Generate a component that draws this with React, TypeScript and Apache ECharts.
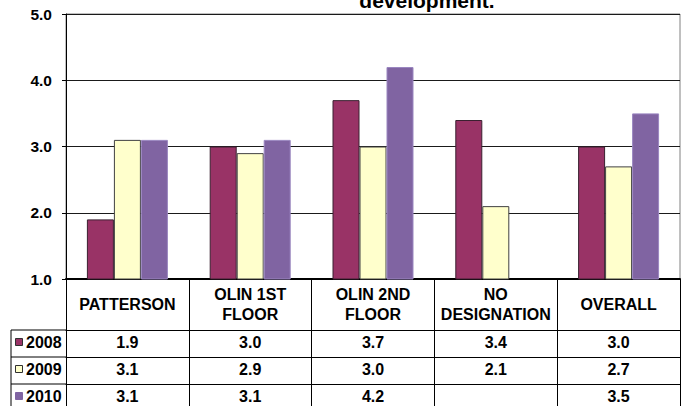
import { useEffect, useRef } from 'react';
import * as echarts from 'echarts';

// Survey groups (header row of the data table)
const categories = ['PATTERSON', 'OLIN 1ST\nFLOOR', 'OLIN 2ND\nFLOOR', 'NO\nDESIGNATION', 'OVERALL'];

// Mean scores per year
const years = ['2008', '2009', '2010'];
const values2008: (number | null)[] = [1.9, 3.0, 3.7, 3.4, 3.0];
const values2009: (number | null)[] = [3.1, 2.9, 3.0, 2.1, 2.7];
const values2010: (number | null)[] = [3.1, 3.1, 4.2, null, 3.5];
const seriesValues = [values2008, values2009, values2010];

// Value axis range
const yMin = 1;
const yMax = 5;
const yStep = 1;

const titleText = 'development.';

const colors = ['#993366', '#FFFFCC', '#8064A2'];
const borders = ['#3a2030', '#404040', '#9a86c0'];

const FONT = '"Liberation Sans", Arial, sans-serif';

// Layout of the plot area and the data table under it
const W = 684;
const H = 406;
const GRID_LEFT = 66;
const GRID_RIGHT = 4;
const GRID_TOP = 14;
const GRID_BOTTOM = 127;
const HEADER_H = 51;
const ROW_H = 27;
const TABLE_LEFT = 11;

const fmt = (v: number | null) => (v == null ? '' : v.toFixed(1));

export default function App() {
  const ref = useRef<HTMLDivElement>(null);

  useEffect(() => {
    const chart = echarts.init(ref.current!, null, { renderer: 'svg' });
    const axisBottom = H - GRID_BOTTOM;
    const tableTop = axisBottom + HEADER_H;

    const rowAxes = seriesValues.map((vals, i) => ({
      type: 'category',
      gridIndex: 0,
      position: 'bottom',
      offset: HEADER_H + i * ROW_H,
      data: categories,
      boundaryGap: true,
      axisLine: { show: true, lineStyle: { color: '#000', width: 1 } },
      axisTick: { show: true, length: ROW_H, lineStyle: { color: '#000', width: 1 } },
      axisLabel: {
        interval: 0,
        margin: ROW_H / 2 - 1,
        verticalAlign: 'middle',
        color: '#000',
        fontFamily: FONT,
        fontWeight: 'bold',
        fontSize: 16,
        formatter: (_v: string, idx: number) => fmt(vals[idx]),
      },
      splitLine: { show: false },
    }));

    const legendGraphics: any[] = [
      {
        type: 'line',
        shape: { x1: TABLE_LEFT, y1: tableTop, x2: TABLE_LEFT, y2: H },
        style: { stroke: '#000', lineWidth: 1 },
      },
    ];
    years.forEach((name, i) => {
      const top = tableTop + i * ROW_H;
      legendGraphics.push(
        {
          type: 'line',
          shape: { x1: TABLE_LEFT, y1: top, x2: GRID_LEFT, y2: top },
          style: { stroke: '#000', lineWidth: 1 },
        },
        {
          type: 'rect',
          shape: { x: 15.5, y: top + 8.5, width: 7, height: 7 },
          style: { fill: colors[i], stroke: i === 2 ? colors[i] : '#303030', lineWidth: 1 },
        },
        {
          type: 'text',
          x: 26,
          y: top + ROW_H / 2 - 1,
          style: {
            text: name,
            fill: '#000',
            font: `bold 16px ${FONT}`,
            align: 'left',
            verticalAlign: 'middle',
          },
        }
      );
    });

    chart.setOption({
      animation: false,
      backgroundColor: '#fff',
      grid: {
        left: GRID_LEFT,
        right: GRID_RIGHT,
        top: GRID_TOP,
        bottom: GRID_BOTTOM,
        containLabel: false,
        outerBoundsMode: 'none',
        show: true,
        borderColor: '#808080',
        borderWidth: 1,
      },
      xAxis: [
        {
          type: 'category',
          gridIndex: 0,
          position: 'bottom',
          data: categories,
          boundaryGap: true,
          axisLine: { show: true, lineStyle: { color: '#000', width: 2 } },
          axisTick: { show: true, length: HEADER_H, lineStyle: { color: '#000', width: 1 } },
          axisLabel: {
            interval: 0,
            margin: HEADER_H / 2,
            verticalAlign: 'middle',
            align: 'center',
            color: '#000',
            fontFamily: FONT,
            fontWeight: 'bold',
            fontSize: 16,
            lineHeight: 20,
          },
          splitLine: { show: false },
        },
        ...rowAxes,
      ],
      yAxis: {
        type: 'value',
        min: yMin,
        max: yMax,
        interval: yStep,
        axisLine: { show: true, lineStyle: { color: '#000', width: 1 } },
        axisTick: { show: true, length: 4, lineStyle: { color: '#000' } },
        axisLabel: {
          margin: 14,
          color: '#000',
          fontFamily: FONT,
          fontWeight: 'bold',
          fontSize: 15.5,
          formatter: (v: number) => v.toFixed(1),
        },
        splitLine: { show: true, lineStyle: { color: '#1a1a1a', width: 1 } },
      },
      series: seriesValues.map((vals, i) => ({
        name: years[i],
        type: 'bar',
        xAxisIndex: 0,
        yAxisIndex: 0,
        data: vals,
        barWidth: 27,
        barGap: '0%',
        itemStyle: { color: colors[i], borderColor: borders[i], borderWidth: 1 },
      })),
      graphic: [
        {
          type: 'text',
          x: 427,
          y: 0,
          style: {
            text: titleText,
            fill: '#000',
            font: `bold 21px ${FONT}`,
            align: 'center',
            verticalAlign: 'middle',
          },
        },
        ...legendGraphics,
      ],
    });

    return () => chart.dispose();
  }, []);

  return (
    <div
      ref={ref}
      style={{ position: 'fixed', left: 0, top: 0, width: W, height: H, background: '#fff' }}
    />
  );
}
